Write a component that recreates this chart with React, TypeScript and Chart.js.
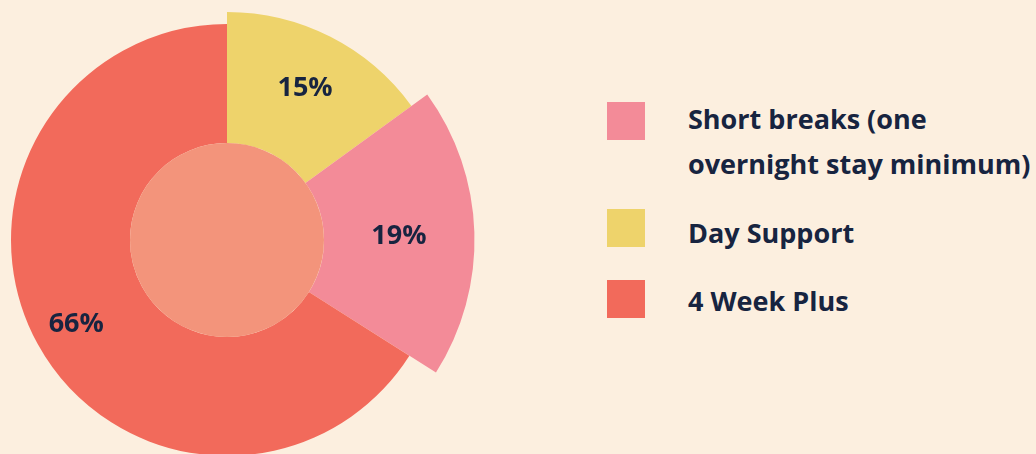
import React, { useEffect, useRef } from 'react';
import { Chart, registerables } from 'chart.js';

Chart.register(...registerables);

// ---- data ----
const categories = ['Day Support', 'Short breaks (one overnight stay minimum)', '4 Week Plus'];
const values = [15, 19, 66];
const sliceColors = ['#eed36b', '#f38b98', '#f26a5b'];
const legendOrder = [1, 0, 2];
const legendLines = [['Day Support'], ['Short breaks (one', 'overnight stay minimum)'], ['4 Week Plus']];

// ---- styles ----
const BG = '#fcefdf';
const TEXT = '#172440';
const DISC = '#f3947b';
const FONT = "'Open Sans', 'Noto Sans', sans-serif";
const radiusScale = [0.912, 0.99, 0.864];
const labelRadiusRatio = 0.688;
const legendRowTops = [{ box: 209, text: 211 }, { box: 102, text: 97 }, { box: 280, text: 278.5 }];

const variableRadius = {
  id: 'variableRadius',
  afterDatasetsUpdate(chart: any) {
    const meta = chart.getDatasetMeta(0);
    meta.data.forEach((arc: any, i: number) => {
      arc.outerRadius = arc.outerRadius * radiusScale[i];
    });
  },
};

const discAndLabels = {
  id: 'discAndLabels',
  afterDatasetsDraw(chart: any) {
    const ctx = chart.ctx;
    const meta = chart.getDatasetMeta(0);
    const first = meta.data[0];
    if (!first) return;
    const cx = first.x;
    const cy = first.y;
    const base = meta.controller.outerRadius;
    ctx.save();
    ctx.fillStyle = DISC;
    ctx.beginPath();
    ctx.arc(cx, cy, first.innerRadius, 0, Math.PI * 2);
    ctx.fill();
    ctx.fillStyle = TEXT;
    ctx.font = `700 27px ${FONT}`;
    ctx.textAlign = 'center';
    ctx.textBaseline = 'alphabetic';
    meta.data.forEach((arc: any, i: number) => {
      const mid = (arc.startAngle + arc.endAngle) / 2;
      const r = base * labelRadiusRatio;
      const x = cx + Math.cos(mid) * r;
      const y = cy + Math.sin(mid) * r;
      ctx.fillText(`${values[i]}%`, x, y + 9.5);
    });
    ctx.restore();
  },
};

export default function App() {
  const ref = useRef<HTMLCanvasElement | null>(null);

  useEffect(() => {
    if (!ref.current) return;
    const chart = new Chart(ref.current, {
      type: 'doughnut',
      data: {
        labels: categories,
        datasets: [
          {
            data: values,
            backgroundColor: sliceColors,
            borderWidth: 0,
          },
        ],
      },
      options: {
        responsive: false,
        animation: false,
        events: [],
        cutout: '38.8%',
        rotation: 0,
        layout: { padding: 0 },
        plugins: {
          legend: { display: false },
          tooltip: { enabled: false },
        },
      },
      plugins: [variableRadius, discAndLabels],
    });
    return () => chart.destroy();
  }, []);

  return (
    <div
      style={{
        position: 'fixed',
        inset: 0,
        background: BG,
        overflow: 'hidden',
        fontFamily: FONT,
      }}
    >
      <canvas
        ref={ref}
        width={500}
        height={500}
        style={{ position: 'absolute', left: -23, top: -10, width: 500, height: 500 }}
      />
      {legendOrder.map((idx) => (
        <React.Fragment key={idx}>
          <div
            style={{
              position: 'absolute',
              left: 607,
              top: legendRowTops[idx].box,
              width: 38,
              height: 38,
              background: sliceColors[idx],
            }}
          />
          <div
            style={{
              position: 'absolute',
              left: 688,
              top: legendRowTops[idx].text,
              fontSize: 27,
              lineHeight: '44.5px',
              fontWeight: 700,
              color: TEXT,
              whiteSpace: 'nowrap',
            }}
          >
            {legendLines[idx].map((line, j) => (
              <div key={j}>{line}</div>
            ))}
          </div>
        </React.Fragment>
      ))}
    </div>
  );
}
